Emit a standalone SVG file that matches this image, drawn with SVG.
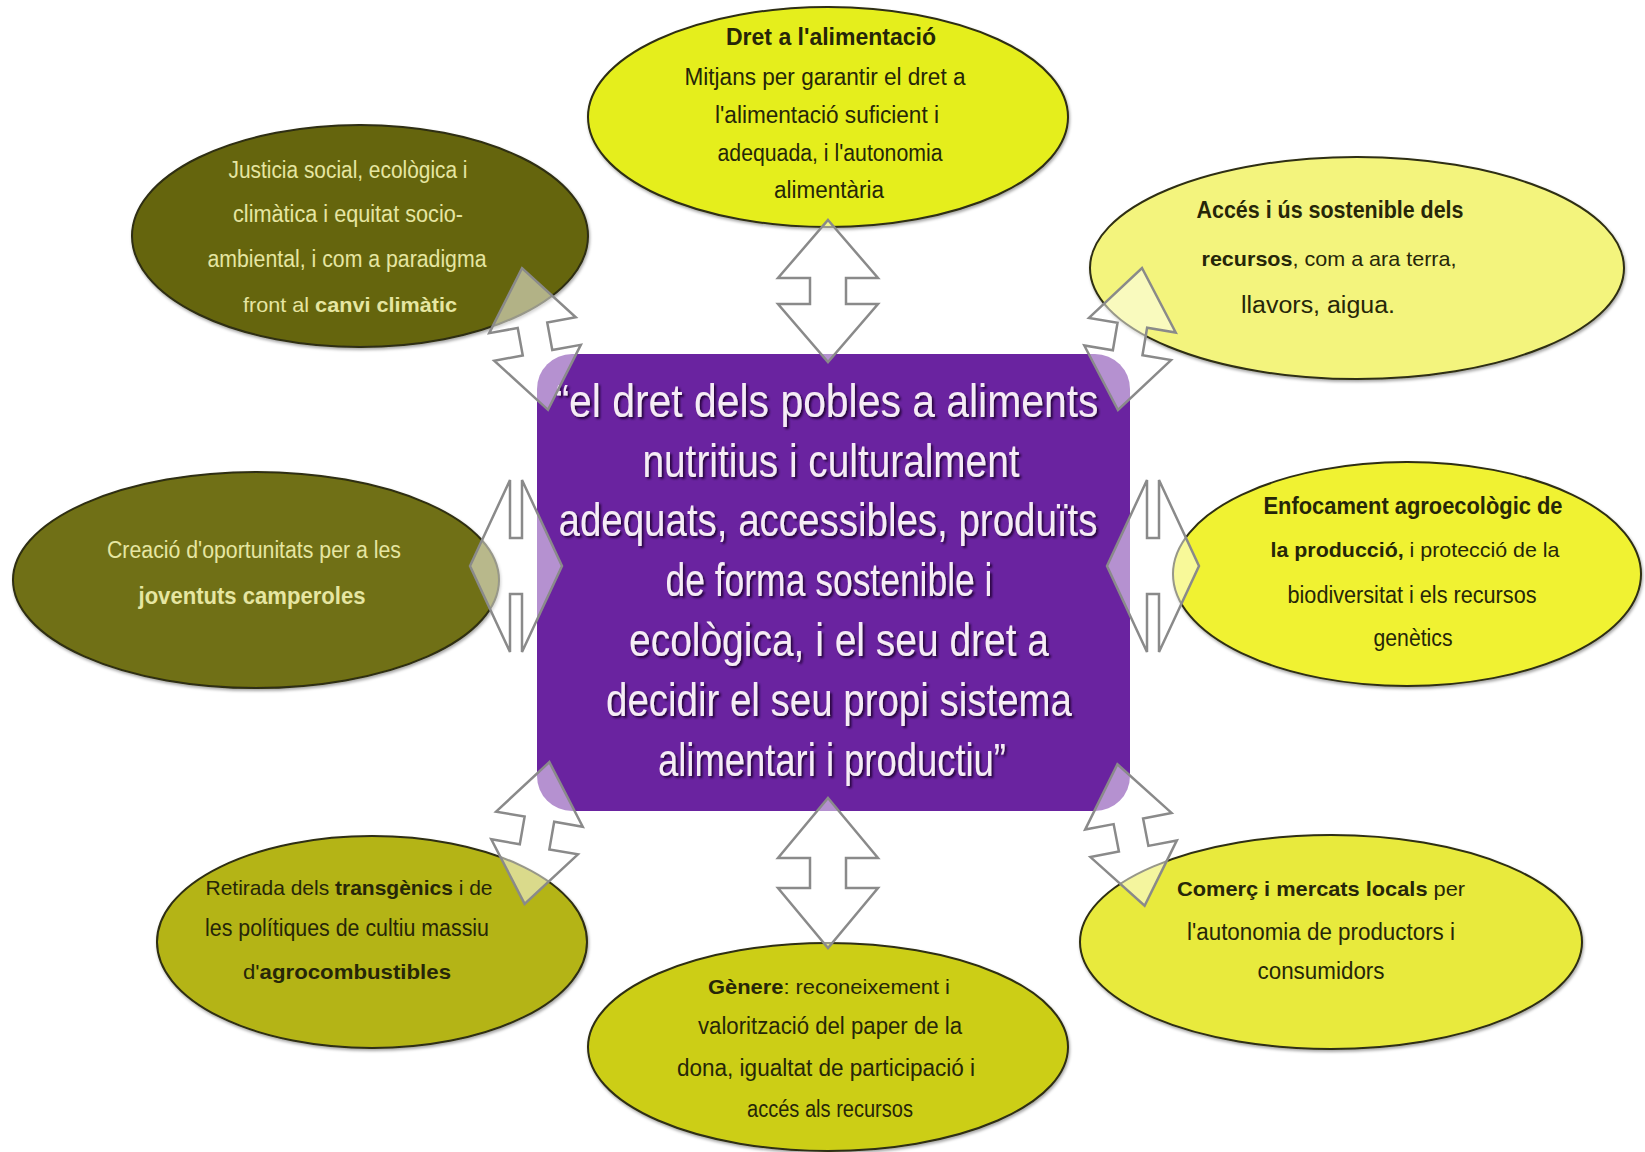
<svg xmlns="http://www.w3.org/2000/svg" width="1645" height="1152" viewBox="0 0 1645 1152">
<defs>
<style>
.ell{stroke:#2e2e12;stroke-width:2}
.t{font-family:"Liberation Sans",Arial,sans-serif;font-size:23px;text-anchor:middle;fill:#262608}
.s{font-size:21px}
.lt{fill:#e6e6a2}
.b{font-weight:bold}
.c{font-family:"Liberation Sans",Arial,sans-serif;font-size:46px;text-anchor:middle;fill:#f6ecf6}
.arr{fill:#ffffff;fill-opacity:0.5;stroke:#8a8a8a;stroke-width:2.5;stroke-linejoin:miter}
</style>
<filter id="sh" x="-5%" y="-20%" width="110%" height="140%">
<feDropShadow dx="2" dy="2" stdDeviation="1.2" flood-color="#1e0030" flood-opacity="0.9"/>
</filter>
<filter id="es" x="-5%" y="-5%" width="110%" height="115%">
<feDropShadow dx="1" dy="2" stdDeviation="1.5" flood-color="#000" flood-opacity="0.35"/>
</filter>
</defs>
<rect width="1645" height="1152" fill="#ffffff"/>

<g id="node-dret">
<ellipse class="ell" filter="url(#es)" cx="828" cy="117" rx="240" ry="110" fill="#e5ee1e"/>
<text class="t b" x="831" y="45" textLength="210" lengthAdjust="spacingAndGlyphs">Dret a l'alimentació</text>
<text class="t" x="825" y="85" textLength="281" lengthAdjust="spacingAndGlyphs">Mitjans per garantir el dret a</text>
<text class="t" x="827" y="123" textLength="224" lengthAdjust="spacingAndGlyphs">l'alimentació suficient i</text>
<text class="t" x="830" y="161" textLength="225" lengthAdjust="spacingAndGlyphs">adequada, i l'autonomia</text>
<text class="t" x="829" y="198" textLength="110" lengthAdjust="spacingAndGlyphs">alimentària</text>
</g>

<g id="node-justicia">
<ellipse class="ell" filter="url(#es)" cx="360" cy="236" rx="228" ry="111" fill="#656510"/>
<text class="t lt" x="348" y="178" textLength="239" lengthAdjust="spacingAndGlyphs">Justicia social, ecològica i</text>
<text class="t lt" x="348" y="222" textLength="230" lengthAdjust="spacingAndGlyphs">climàtica i equitat socio-</text>
<text class="t lt" x="347" y="267" textLength="279" lengthAdjust="spacingAndGlyphs">ambiental, i com a paradigma</text>
<text class="t lt s" x="350" y="312" textLength="214" lengthAdjust="spacingAndGlyphs">front al <tspan class="b">canvi climàtic</tspan></text>
</g>

<g id="node-acces">
<ellipse class="ell" filter="url(#es)" cx="1357" cy="268" rx="267" ry="111" fill="#f3f47d"/>
<text class="t b" x="1330" y="218" textLength="267" lengthAdjust="spacingAndGlyphs">Accés i ús sostenible dels</text>
<text class="t s" x="1329" y="266" textLength="255" lengthAdjust="spacingAndGlyphs"><tspan class="b">recursos</tspan>, com a ara terra,</text>
<text class="t" x="1318" y="313" textLength="154" lengthAdjust="spacingAndGlyphs">llavors, aigua.</text>
</g>

<g id="node-joventuts">
<ellipse class="ell" filter="url(#es)" cx="256" cy="580" rx="243" ry="108" fill="#707012"/>
<text class="t lt" x="254" y="558" textLength="294" lengthAdjust="spacingAndGlyphs">Creació d'oportunitats per a les</text>
<text class="t lt b" x="252" y="604" textLength="227" lengthAdjust="spacingAndGlyphs">joventuts camperoles</text>
</g>

<g id="node-agroecologic">
<ellipse class="ell" filter="url(#es)" cx="1407" cy="574" rx="234" ry="112" fill="#f0f233"/>
<text class="t b" x="1413" y="514" textLength="299" lengthAdjust="spacingAndGlyphs">Enfocament agroecològic de</text>
<text class="t s" x="1415" y="557" textLength="289" lengthAdjust="spacingAndGlyphs"><tspan class="b">la producció,</tspan> i protecció de la</text>
<text class="t" x="1412" y="603" textLength="249" lengthAdjust="spacingAndGlyphs">biodiversitat i els recursos</text>
<text class="t" x="1413" y="646" textLength="79" lengthAdjust="spacingAndGlyphs">genètics</text>
</g>

<g id="node-transgenics">
<ellipse class="ell" filter="url(#es)" cx="372" cy="942" rx="215" ry="106" fill="#b4b414"/>
<text class="t s" x="349" y="895" textLength="287" lengthAdjust="spacingAndGlyphs">Retirada dels <tspan class="b">transgènics</tspan> i de</text>
<text class="t" x="347" y="936" textLength="284" lengthAdjust="spacingAndGlyphs">les polítiques de cultiu massiu</text>
<text class="t s" x="347" y="979" textLength="208" lengthAdjust="spacingAndGlyphs">d'<tspan class="b">agrocombustibles</tspan></text>
</g>

<g id="node-genere">
<ellipse class="ell" filter="url(#es)" cx="828" cy="1047" rx="240" ry="104" fill="#ccce14"/>
<text class="t s" x="829" y="994" textLength="242" lengthAdjust="spacingAndGlyphs"><tspan class="b">Gènere</tspan>: reconeixement i</text>
<text class="t" x="830" y="1034" textLength="264" lengthAdjust="spacingAndGlyphs">valorització del paper de la</text>
<text class="t" x="826" y="1076" textLength="298" lengthAdjust="spacingAndGlyphs">dona, igualtat de participació i</text>
<text class="t" x="830" y="1117" textLength="166" lengthAdjust="spacingAndGlyphs">accés als recursos</text>
</g>

<g id="node-comerc">
<ellipse class="ell" filter="url(#es)" cx="1331" cy="942" rx="251" ry="107" fill="#e8ea3c"/>
<text class="t s" x="1321" y="896" textLength="288" lengthAdjust="spacingAndGlyphs"><tspan class="b">Comerç i mercats locals</tspan> per</text>
<text class="t" x="1321" y="940" textLength="268" lengthAdjust="spacingAndGlyphs">l'autonomia de productors i</text>
<text class="t" x="1321" y="979" textLength="127" lengthAdjust="spacingAndGlyphs">consumidors</text>
</g>

<g id="node-center">
<rect x="537" y="354" width="593" height="457" rx="35" ry="35" fill="#6a23a0"/>
<g filter="url(#sh)">
<text class="c" x="827" y="417" textLength="543" lengthAdjust="spacingAndGlyphs">“el dret dels pobles a aliments</text>
<text class="c" x="831" y="477" textLength="377" lengthAdjust="spacingAndGlyphs">nutritius i culturalment</text>
<text class="c" x="828" y="536" textLength="539" lengthAdjust="spacingAndGlyphs">adequats, accessibles, produïts</text>
<text class="c" x="829" y="596" textLength="327" lengthAdjust="spacingAndGlyphs">de forma sostenible i</text>
<text class="c" x="839" y="656" textLength="420" lengthAdjust="spacingAndGlyphs">ecològica, i el seu dret a</text>
<text class="c" x="839" y="716" textLength="466" lengthAdjust="spacingAndGlyphs">decidir el seu propi sistema</text>
<text class="c" x="832" y="776" textLength="348" lengthAdjust="spacingAndGlyphs">alimentari i productiu”</text>
</g>
</g>

<g id="connectors">
<path class="arr" transform="translate(828,291) rotate(90)" d="M-71,0 L-13,-50 L-13,-18 L13,-18 L13,-50 L71,0 L13,50 L13,18 L-13,18 L-13,50 Z"/>
<path class="arr" transform="translate(828,873) rotate(90)" d="M-75,0 L-15,-50 L-15,-18 L15,-18 L15,-50 L75,0 L15,50 L15,18 L-15,18 L-15,50 Z"/>
<path class="arr" transform="translate(516,566)" d="M-46,0 L-6,-86 L-6,-28 L6,-28 L6,-86 L46,0 L6,86 L6,28 L-6,28 L-6,86 Z"/>
<path class="arr" transform="translate(1153,566)" d="M-46,0 L-6,-86 L-6,-28 L6,-28 L6,-86 L46,0 L6,86 L6,28 L-6,28 L-6,86 Z"/>
<path class="arr" transform="translate(535,339) rotate(79.6)" d="M-72,0 L-14,-44 L-14,-15 L14,-15 L14,-44 L72,0 L14,44 L14,15 L-14,15 L-14,44 Z"/>
<path class="arr" transform="translate(1130,339) rotate(99.6)" d="M-72,0 L-14,-44 L-14,-15 L14,-15 L14,-44 L72,0 L14,44 L14,15 L-14,15 L-14,44 Z"/>
<path class="arr" transform="translate(537,833) rotate(99.9)" d="M-72,0 L-14,-44 L-14,-15 L14,-15 L14,-44 L72,0 L14,44 L14,15 L-14,15 L-14,44 Z"/>
<path class="arr" transform="translate(1131,835) rotate(79.1)" d="M-72,0 L-14,-44 L-14,-15 L14,-15 L14,-44 L72,0 L14,44 L14,15 L-14,15 L-14,44 Z"/>
</g>
</svg>
